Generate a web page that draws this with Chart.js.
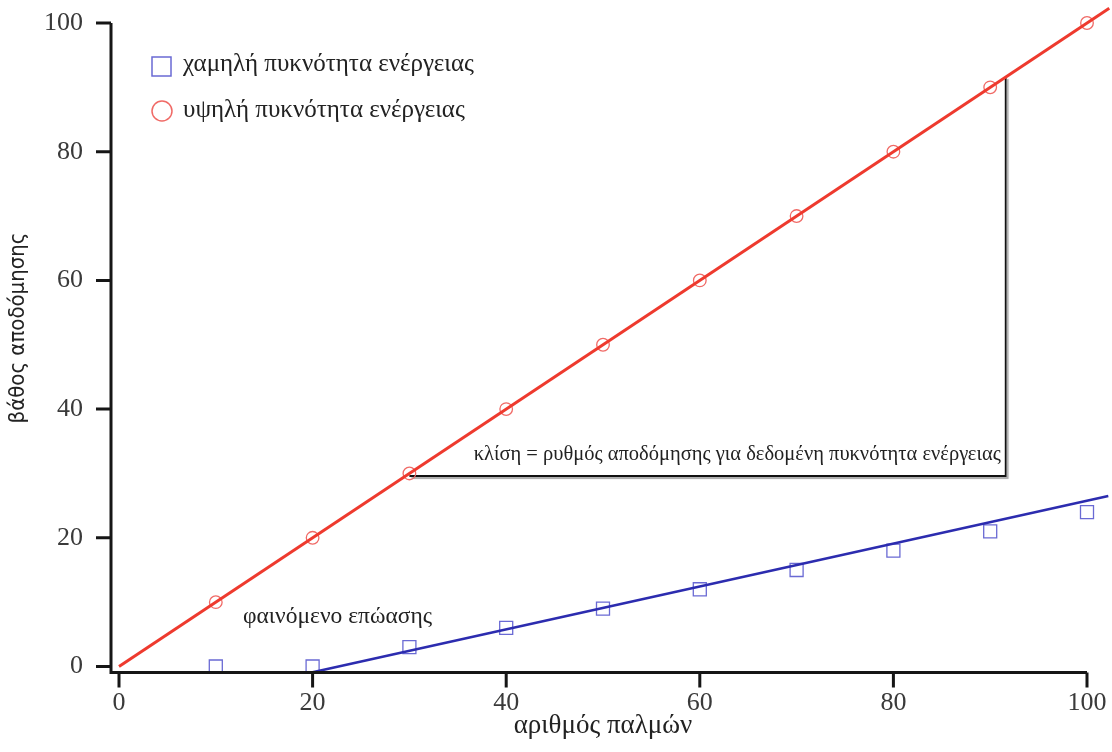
<!DOCTYPE html>
<html>
<head>
<meta charset="utf-8">
<script src="https://cdn.jsdelivr.net/npm/chart.js@4.4.1/dist/chart.umd.min.js"></script>
<style>
  html, body { margin: 0; padding: 0; background: #fff; }
  #wrap { width: 1112px; height: 752px; }
</style>
</head>
<body>
<div id="wrap"><canvas id="c" width="1112" height="752"></canvas></div>
<script>
// pulses on the x axis
const pulses = [10, 20, 30, 40, 50, 60, 70, 80, 90, 100];
// etch depth, low energy density (squares)
const lowDepth = [0, 0, 3, 6, 9, 12, 15, 18, 21, 24];
// etch depth, high energy density (circles)
const highDepth = [10, 20, 30, 40, 50, 60, 70, 80, 90, 100];

// fitted lines (ends)
const highFitX = [0, 102.3];
const highFitY = [0, 102.3];
const lowFitX = [20, 102.2];
const lowFitY = [-0.9, 26.5];

// slope bracket
const slopeX = [30, 91.6, 91.6];
const slopeY = [29.6, 29.6, 91.6];

const tickValues = [0, 20, 40, 60, 80, 100];

const lowLabel = 'χαμηλή πυκνότητα ενέργειας';
const highLabel = 'υψηλή πυκνότητα ενέργειας';
const xTitle = 'αριθμός παλμών';
const yTitle = 'βάθος αποδόμησης';
const slopeText = 'κλίση = ρυθμός αποδόμησης για δεδομένη πυκνότητα ενέργειας';
const incubText = 'φαινόμενο επώασης';

const serif = "'Liberation Serif', 'DejaVu Serif', serif";
const sansNarrow = "'Liberation Sans Narrow', 'DejaVu Sans Condensed', sans-serif";
const blueMark = '#6a6ad4';
const blueLine = '#2c2caf';
const redMark = '#f06a66';
const redLine = '#ee3a2e';
const axisCol = '#161616';

const pts = (xs, ys) => xs.map((x, i) => ({ x: x, y: ys[i] }));

// range-frame axes, drawn a little away from the plot area
const axesPlugin = {
    id: 'axes',
    afterDraw(chart) {
        const ctx = chart.ctx;
        const xs = chart.scales.x, ys = chart.scales.y;
        const left = xs.getPixelForValue(0) - 8;
        const base = ys.getPixelForValue(0) + 6;
        const top = ys.getPixelForValue(100);
        const right = xs.getPixelForValue(100);
        const tl = 15;
        ctx.save();
        ctx.strokeStyle = axisCol;
        ctx.lineWidth = 3;
        ctx.lineCap = 'butt';
        ctx.beginPath();
        ctx.moveTo(left, top);
        ctx.lineTo(left, base);
        ctx.lineTo(right, base);
        tickValues.forEach(v => {
            const py = ys.getPixelForValue(v);
            ctx.moveTo(left - tl, py);
            ctx.lineTo(left, py);
            const px = xs.getPixelForValue(v);
            ctx.moveTo(px, base);
            ctx.lineTo(px, base + tl);
        });
        ctx.stroke();
        ctx.restore();
    }
};

// legend and text notes
const notesPlugin = {
    id: 'notes',
    afterDraw(chart) {
        const ctx = chart.ctx;
        const xs = chart.scales.x, ys = chart.scales.y;
        ctx.save();
        ctx.fillStyle = '#222';
        ctx.textBaseline = 'middle';

        // legend
        ctx.lineWidth = 1.5;
        ctx.strokeStyle = blueMark;
        ctx.strokeRect(152, 57, 19, 19);
        ctx.strokeStyle = redMark;
        ctx.beginPath();
        ctx.arc(162, 111, 10, 0, Math.PI * 2);
        ctx.stroke();
        ctx.font = '25px ' + serif;
        ctx.textAlign = 'left';
        ctx.fillText(lowLabel, 183, 64);
        ctx.fillText(highLabel, 183, 110);

        // incubation note
        ctx.font = '23.5px ' + serif;
        ctx.fillText(incubText, xs.getPixelForValue(12.8), ys.getPixelForValue(7.7));

        // slope note
        ctx.font = '20.5px ' + serif;
        ctx.textAlign = 'right';
        ctx.fillText(slopeText, xs.getPixelForValue(91.1), ys.getPixelForValue(33));

        // y axis title (sits a bit above the plot centre in the original)
        ctx.translate(18, 328);
        ctx.rotate(-Math.PI / 2);
        ctx.textAlign = 'center';
        ctx.font = '22px ' + sansNarrow;
        ctx.fillText(yTitle, 0, 0);
        ctx.restore();
    }
};

const shadowPlugin = {
    id: 'bracketShadow',
    beforeDatasetDraw(chart, args) {
        if (args.index !== 4) return;
        const ctx = chart.ctx;
        ctx.save();
        ctx.shadowColor = 'rgba(0,0,0,0.35)';
        ctx.shadowOffsetX = 2;
        ctx.shadowOffsetY = 2;
        ctx.shadowBlur = 1;
    },
    afterDatasetDraw(chart, args) {
        if (args.index !== 4) return;
        chart.ctx.restore();
    }
};

new Chart(document.getElementById('c'), {
    type: 'scatter',
    data: {
        datasets: [
            {
                label: highLabel + ' fit',
                data: pts(highFitX, highFitY),
                showLine: true,
                borderColor: redLine,
                borderWidth: 3,
                pointRadius: 0,
                clip: false
            },
            {
                label: lowLabel + ' fit',
                data: pts(lowFitX, lowFitY),
                showLine: true,
                borderColor: blueLine,
                borderWidth: 2.5,
                pointRadius: 0,
                clip: false
            },
            {
                label: lowLabel,
                data: pts(pulses, lowDepth),
                pointStyle: 'rect',
                pointRadius: 9.2,
                borderColor: blueMark,
                backgroundColor: 'rgba(0,0,0,0)',
                borderWidth: 1.3,
                clip: false
            },
            {
                label: highLabel,
                data: pts(pulses, highDepth),
                pointStyle: 'circle',
                pointRadius: 6.3,
                borderColor: redMark,
                backgroundColor: 'rgba(0,0,0,0)',
                borderWidth: 1.3,
                clip: false
            },
            {
                label: 'slope',
                data: pts(slopeX, slopeY),
                showLine: true,
                borderColor: '#111',
                borderWidth: 1.8,
                pointRadius: 0,
                clip: false
            }
        ]
    },
    options: {
        responsive: false,
        animation: false,
        layout: { padding: { top: 23, right: 25, left: 0, bottom: 0 } },
        plugins: {
            legend: { display: false },
            tooltip: { enabled: false }
        },
        scales: {
            x: {
                type: 'linear',
                min: 0,
                max: 100,
                border: { display: false },
                grid: { display: false },
                afterFit: s => { s.height = 85.5; s.paddingLeft = 0; s.paddingRight = 0; },
                afterBuildTicks: s => { s.ticks = tickValues.map(v => ({ value: v })); },
                ticks: {
                    padding: 13,
                    color: '#3a3a3a',
                    font: { family: serif, size: 26 },
                    maxRotation: 0
                },
                title: {
                    display: true,
                    text: xTitle,
                    color: '#222',
                    font: { family: serif, size: 27 },
                    padding: { top: 0, bottom: 10 }
                }
            },
            y: {
                type: 'linear',
                min: 0,
                max: 100,
                border: { display: false },
                grid: { display: false },
                afterFit: s => { s.width = 119; s.paddingTop = 0; s.paddingBottom = 0; },
                afterBuildTicks: s => { s.ticks = tickValues.map(v => ({ value: v })); },
                ticks: {
                    padding: 28,
                    color: '#3a3a3a',
                    font: { family: serif, size: 26 }
                },
                title: { display: false }
            }
        }
    },
    plugins: [axesPlugin, notesPlugin, shadowPlugin]
});
</script>
</body>
</html>
